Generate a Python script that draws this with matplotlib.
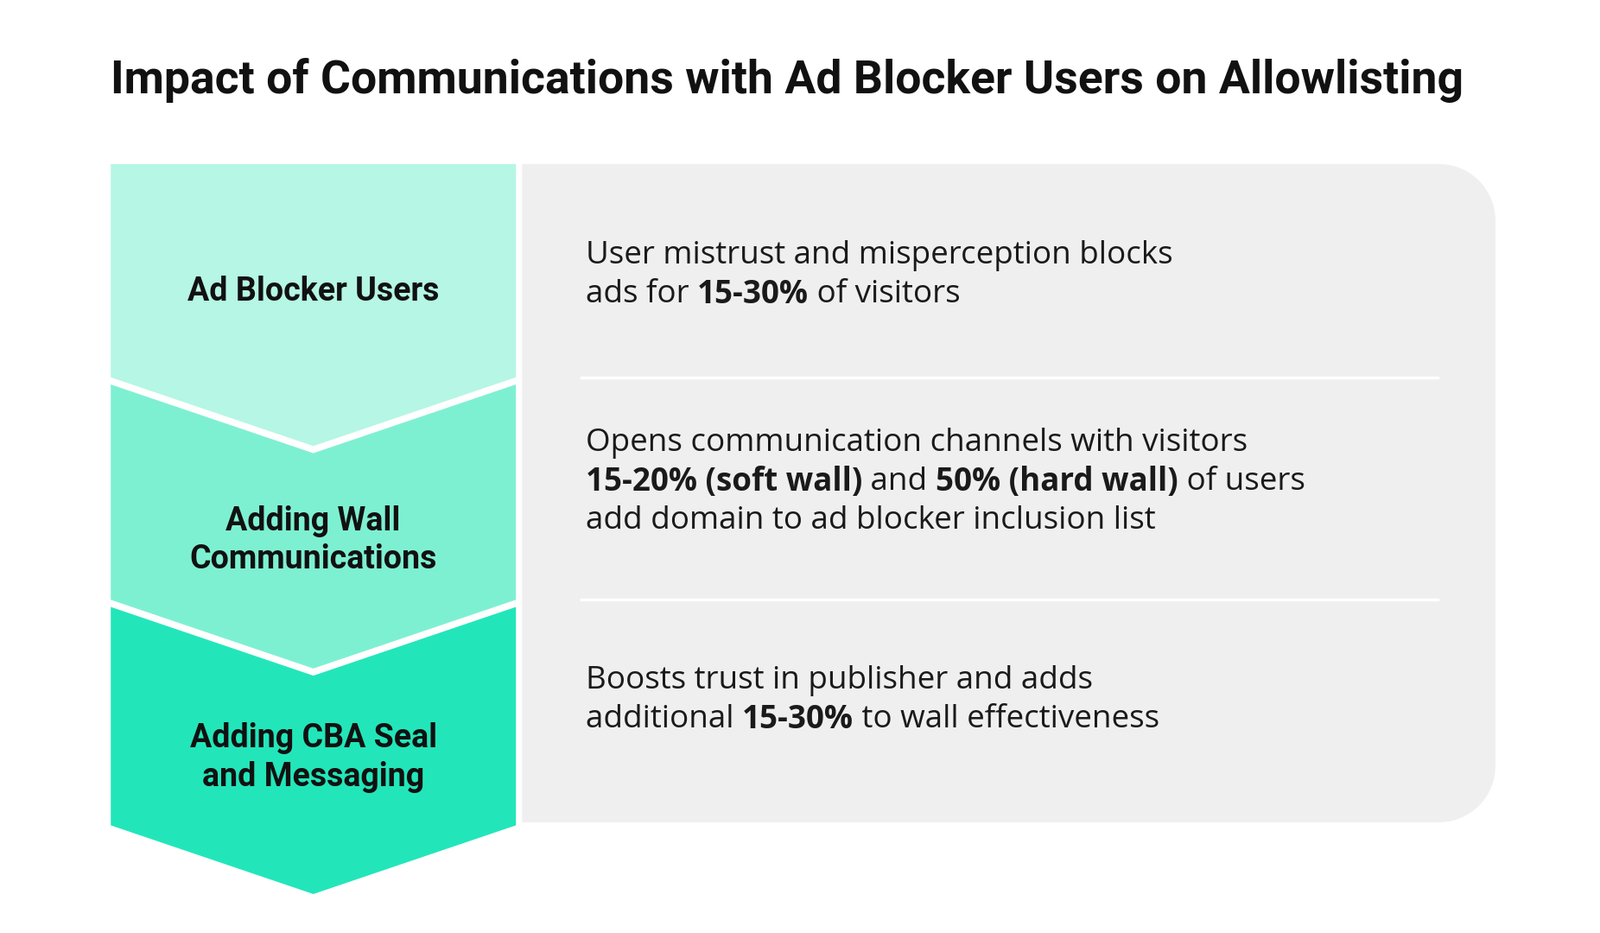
import numpy as np
import matplotlib
matplotlib.use("Agg")
import matplotlib.pyplot as plt
from matplotlib.patches import Polygon

title = "Impact of Communications with Ad Blocker Users on Allowlisting"
stages = ["Ad Blocker Users", "Adding Wall\nCommunications", "Adding CBA Seal\nand Messaging"]
stage_colors = ["#b5f6e4", "#7ef0d2", "#22e6b9"]
# each description: list of lines, each line a list of (text, bold)
descriptions = [
    [[("User mistrust and misperception blocks", False)],
     [("ads for ", False), ("15-30%", True), (" of visitors", False)]],
    [[("Opens communication channels with visitors", False)],
     [("15-20% (soft wall)", True), (" and ", False), ("50% (hard wall)", True), (" of users", False)],
     [("add domain to ad blocker inclusion list", False)]],
    [[("Boosts trust in publisher and adds", False)],
     [("additional ", False), ("15-30%", True), (" to wall effectiveness", False)]],
]

fig = plt.figure(figsize=(18.52, 10.8), dpi=100)
ax = fig.add_axes([0, 0, 1, 1])
ax.set_xlim(0, 1560)
ax.set_ylim(910, 0)
ax.axis("off")

ax.text(108, 78, title, fontsize=38.5, fontweight="bold", family="Roboto", va="center", ha="left", color="#111111")

# gray panel with rounded right corners
x0, x1, y0, y1, r = 509, 1458, 160, 802, 55
pts = [(x0, y0), (x1 - r, y0)]
t = np.linspace(-np.pi / 2, 0, 20)
pts += list(zip(x1 - r + r * np.cos(t), y0 + r + r * np.sin(t)))
t = np.linspace(0, np.pi / 2, 20)
pts += list(zip(x1 - r + r * np.cos(t), y1 - r + r * np.sin(t)))
pts += [(x0, y1)]
ax.add_patch(Polygon(pts, closed=True, fc="#efefef", ec="none"))

# chevron column
lx0, lx1, cx, dep = 108, 503, 305.5, 67
tops = [160, 375, 592]
bots = [368, 585, 805]
for i in range(3):
    top, bot = tops[i], bots[i]
    poly = [(lx0, bot), (cx, bot + dep), (lx1, bot)]
    if i == 0:
        poly += [(lx1, top), (lx0, top)]
    else:
        poly += [(lx1, top), (cx, top + dep), (lx0, top)]
    ax.add_patch(Polygon(poly, closed=True, fc=stage_colors[i], ec="none"))

label_y = [284, 527, 739]
for lab, y in zip(stages, label_y):
    ax.text(cx, y, lab, fontsize=27, fontweight="bold", family="Roboto", ha="center", va="center",
            color="#111111", linespacing=1.25)

# separators
for y in [368, 585]:
    ax.plot([567, 1402], [y, y], color="white", lw=2.5)

fig.canvas.draw()
renderer = fig.canvas.get_renderer()
inv = ax.transData.inverted()
line_starts = [249, 432, 664]
lh = 38
for desc, ys in zip(descriptions, line_starts):
    for li, line in enumerate(desc):
        x = 571
        y = ys + li * lh
        for txt, bold in line:
            tt = ax.text(x, y, txt, fontsize=26.5, family="Open Sans", fontweight="bold" if bold else "normal",
                         va="center", ha="left", color="#1a1a1a")
            bb = tt.get_window_extent(renderer)
            x = inv.transform((bb.x1, bb.y0))[0]

fig.savefig("out.png", dpi=100, facecolor="white")
